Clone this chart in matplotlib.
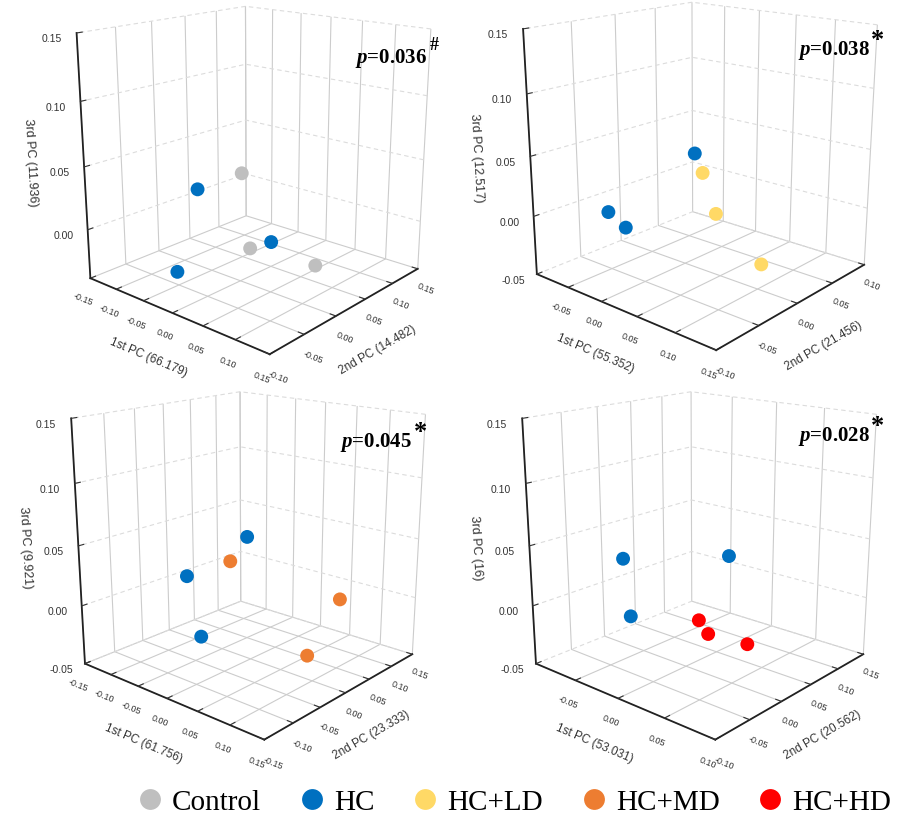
import matplotlib.pyplot as plt
from matplotlib.lines import Line2D

plt.rcParams['font.family'] = ['Liberation Sans', 'DejaVu Sans']
plt.rcParams['mathtext.fontset'] = 'custom'
plt.rcParams['mathtext.it'] = 'Liberation Serif:italic:bold'
plt.rcParams['mathtext.rm'] = 'Liberation Serif:bold'

groups = ["Control", "HC", "HC+LD", "HC+MD", "HC+HD"]
group_colors = ["#bfbfbf", "#0070c0", "#ffd966", "#ed7d31", "#ff0000"]

# panel 1: Control vs HC
p1_control_pc1 = [-0.123, -0.048, 0.054]
p1_control_pc2 = [0.117, 0.061, 0.071]
p1_control_pc3 = [0.010, -0.035, -0.035]
p1_hc_pc1 = [-0.077, -0.028, -0.056]
p1_hc_pc2 = [0.003, 0.078, -0.047]
p1_hc_pc3 = [0.023, -0.030, -0.031]

# panel 2: HC vs HC+LD
p2_hc_pc1 = [-0.042, -0.053, -0.031]
p2_hc_pc2 = [0.051, -0.050, -0.047]
p2_hc_pc3 = [0.028, -0.001, -0.011]
p2_ld_pc1 = [-0.028, -0.008, 0.072]
p2_ld_pc2 = [0.049, 0.049, 0.034]
p2_ld_pc3 = [0.013, -0.021, -0.046]

# panel 3: HC vs HC+MD
p3_hc_pc1 = [-0.102, -0.092, -0.060]
p3_hc_pc2 = [0.110, -0.021, -0.029]
p3_hc_pc3 = [0.026, 0.012, -0.035]
p3_md_pc1 = [-0.088, 0.061, 0.062]
p3_md_pc2 = [0.059, 0.109, 0.039]
p3_md_pc3 = [0.013, -0.008, -0.044]

# panel 4: HC vs HC+HD
p4_hc_pc1 = [-0.069, -0.013, -0.071]
p4_hc_pc2 = [-0.005, 0.090, 0.007]
p4_hc_pc3 = [0.028, 0.024, -0.026]
p4_hd_pc1 = [-0.045, -0.022, 0.016]
p4_hd_pc2 = [0.085, 0.068, 0.079]
p4_hd_pc3 = [-0.041, -0.044, -0.046]

pc1_labels = ["1st PC (66.179)", "1st PC (55.352)", "1st PC (61.756)", "1st PC (53.031)"]
pc2_labels = ["2nd PC (14.482)", "2nd PC (21.456)", "2nd PC (23.333)", "2nd PC (20.562)"]
pc3_labels = ["3rd PC (11.936)", "3rd PC (12.517)", "3rd PC (9.921)", "3rd PC (16)"]
p_values = ["0.036", "0.038", "0.045", "0.028"]
p_marks = ["#", "*", "*", "*"]

x_limits = [(-0.15, 0.15), (-0.10, 0.15), (-0.15, 0.15), (-0.10, 0.10)]
y_limits = [(-0.10, 0.15), (-0.10, 0.10), (-0.15, 0.15), (-0.10, 0.15)]
z_limits = [(-0.04, 0.15), (-0.05, 0.15), (-0.05, 0.15), (-0.05, 0.15)]
x_ticks = [[-0.15, -0.10, -0.05, 0.00, 0.05, 0.10, 0.15],
           [-0.05, 0.00, 0.05, 0.10, 0.15],
           [-0.15, -0.10, -0.05, 0.00, 0.05, 0.10, 0.15],
           [-0.05, 0.00, 0.05, 0.10]]
y_ticks = [[-0.10, -0.05, 0.00, 0.05, 0.10, 0.15],
           [-0.10, -0.05, 0.00, 0.05, 0.10],
           [-0.15, -0.10, -0.05, 0.00, 0.05, 0.10, 0.15],
           [-0.10, -0.05, 0.00, 0.05, 0.10, 0.15]]
z_ticks = [[0.00, 0.05, 0.10, 0.15],
           [-0.05, 0.00, 0.05, 0.10, 0.15],
           [-0.05, 0.00, 0.05, 0.10, 0.15],
           [-0.05, 0.00, 0.05, 0.10, 0.15]]

panel_series = [
    [("Control", p1_control_pc1, p1_control_pc2, p1_control_pc3), ("HC", p1_hc_pc1, p1_hc_pc2, p1_hc_pc3)],
    [("HC", p2_hc_pc1, p2_hc_pc2, p2_hc_pc3), ("HC+LD", p2_ld_pc1, p2_ld_pc2, p2_ld_pc3)],
    [("HC", p3_hc_pc1, p3_hc_pc2, p3_hc_pc3), ("HC+MD", p3_md_pc1, p3_md_pc2, p3_md_pc3)],
    [("HC", p4_hc_pc1, p4_hc_pc2, p4_hc_pc3), ("HC+HD", p4_hd_pc1, p4_hd_pc2, p4_hd_pc3)],
]

positions = [[0.028, 0.566, 0.5, 0.47], [0.523, 0.571, 0.5, 0.47],
             [0.022, 0.096, 0.5, 0.47], [0.522, 0.096, 0.5, 0.47]]
# p-value text anchors (right edge, baseline) in figure fraction
p_pos = [(0.474, 0.923), (0.965, 0.933), (0.457, 0.455), (0.965, 0.462)]
mark_pos = [(0.476, 0.945), (0.966, 0.950), (0.459, 0.472), (0.966, 0.480)]

fig = plt.figure(figsize=(9.02, 8.2), dpi=100)

for i in range(4):
    ax = fig.add_axes(positions[i], projection='3d')
    ax.set_facecolor('none')
    for name, xs, ys, zs in panel_series[i]:
        ax.scatter(xs, ys, zs, s=100, color=group_colors[groups.index(name)],
                   depthshade=False, edgecolors='none', alpha=1)

    ax.set_xlim(*x_limits[i], view_margin=0)
    ax.set_ylim(*y_limits[i], view_margin=0)
    ax.set_zlim(*z_limits[i], view_margin=0)
    ax.set_xticks(x_ticks[i])
    ax.set_xticklabels([f"{t:.2f}" for t in x_ticks[i]])
    ax.set_yticks(y_ticks[i])
    ax.set_yticklabels([f"{t:.2f}" for t in y_ticks[i]])
    ax.set_zticks(z_ticks[i])
    ax.set_zticklabels([f"{t:.2f}" for t in z_ticks[i]])

    ax.view_init(elev=17, azim=-49)
    ax.set_proj_type('persp', focal_length=0.45)
    ax.set_box_aspect((1, 1, 1.05), zoom=1.07)
    ax.zaxis.set_ticks_position('lower')
    ax.zaxis.set_label_position('lower')

    for axis in (ax.xaxis, ax.yaxis, ax.zaxis):
        axis.set_pane_color((1, 1, 1, 0))
        axis.pane.set_edgecolor('#a0a0a0')
        axis.pane.set_linewidth(0.8)
        axis.line.set_color('#222222')
        axis.line.set_linewidth(1.3)
        axis._axinfo['grid'].update(color='#cccccc', linewidth=0.8, linestyle='-')
        axis._axinfo['tick'].update(inward_factor=0.0, outward_factor=0.35)
    ax.zaxis._axinfo['grid'].update(color='#dcdcdc', linewidth=0.8, linestyle=(0, (4, 3)))

    ax.tick_params(axis='x', labelsize=6.5, pad=-2, colors='#333333', labelrotation=-22)
    ax.tick_params(axis='y', labelsize=6.5, pad=-2, colors='#333333', labelrotation=-22)
    ax.tick_params(axis='z', labelsize=7.5, pad=2, colors='#333333')

    ax.set_xlabel(pc1_labels[i], fontsize=8.5, labelpad=-2, color='#333333')
    ax.set_ylabel(pc2_labels[i], fontsize=8.5, labelpad=-2, color='#333333')
    ax.set_zlabel(pc3_labels[i], fontsize=9, labelpad=1, color='#333333')

    fig.text(p_pos[i][0], p_pos[i][1], r"$p$=" + p_values[i], ha='right', va='baseline',
             fontsize=15, fontweight='bold', family='Liberation Serif')
    fig.text(mark_pos[i][0], mark_pos[i][1], p_marks[i], ha='left', va='center',
             fontsize=13 if p_marks[i] == "#" else 19, fontweight='bold', family='Liberation Serif')

handles = [Line2D([], [], marker='o', linestyle='none', markersize=15,
                  markerfacecolor=c, markeredgecolor='none') for c in group_colors]
fig.legend(handles, groups, loc='lower center', bbox_to_anchor=(0.569, -0.027), ncol=5,
           frameon=False, handletextpad=0.25, columnspacing=1.25, handlelength=1.0,
           prop={'family': 'Liberation Serif', 'size': 21})

fig.savefig("out.png", dpi=100)
